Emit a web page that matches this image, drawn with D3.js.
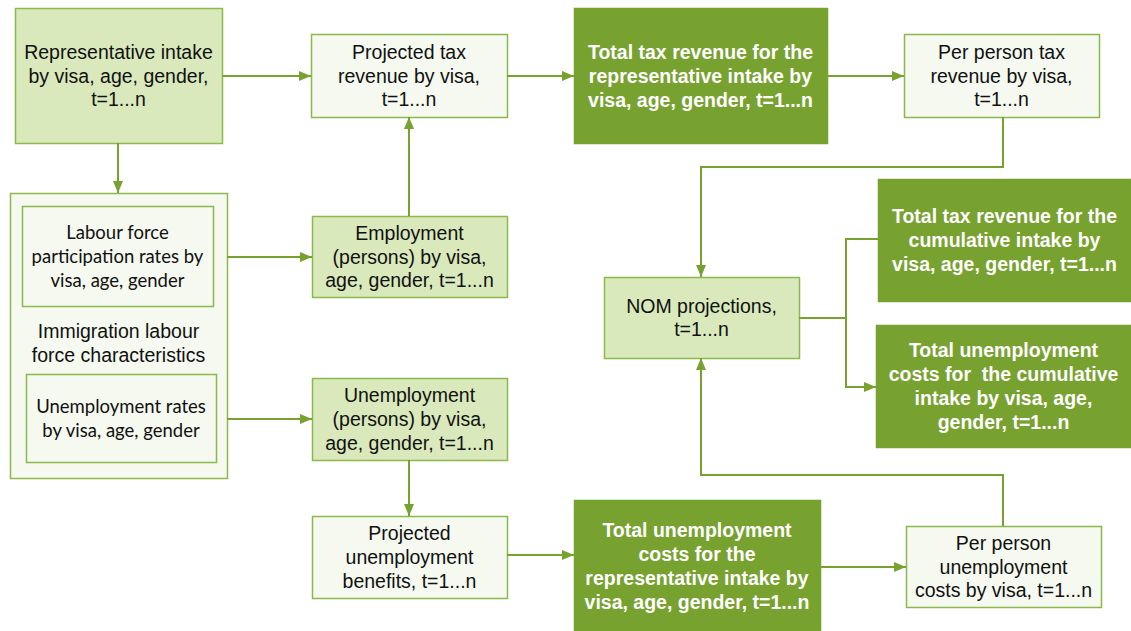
<!DOCTYPE html>
<html>
<head>
<meta charset="utf-8">
<script src="https://cdn.jsdelivr.net/npm/d3@7"></script>
<style>
  body { margin: 0; background: #fff; }
  svg { display: block; }
</style>
</head>
<body>
<div class="chart"></div>
<script>
// node ids, labels and kinds
const nodeIds = ["intake", "projTax", "totalTax", "perTax", "container", "lfpr", "urate",
    "employment", "unemployment", "projBen", "totalUnemp", "perUnemp", "nom", "cumTax", "cumUnemp"]
const nodeLabels = [
    ["Representative intake", "by visa, age, gender,", "t=1...n"],
    ["Projected tax", "revenue by visa,", "t=1...n"],
    ["Total tax revenue for the", "representative intake by", "visa, age, gender, t=1...n"],
    ["Per person tax", "revenue by visa,", "t=1...n"],
    ["Immigration labour", "force characteristics"],
    ["Labour force", "participation rates by", "visa, age, gender"],
    ["Unemployment rates", "by visa, age, gender"],
    ["Employment", "(persons) by visa,", "age, gender, t=1...n"],
    ["Unemployment", "(persons) by visa,", "age, gender, t=1...n"],
    ["Projected", "unemployment", "benefits, t=1...n"],
    ["Total unemployment", "costs for the", "representative intake by", "visa, age, gender, t=1...n"],
    ["Per person", "unemployment", "costs by visa, t=1...n"],
    ["NOM projections,", "t=1...n"],
    ["Total tax revenue for the", "cumulative intake by", "visa, age, gender, t=1...n"],
    ["Total unemployment", "costs for  the cumulative", "intake by visa, age,", "gender, t=1...n"]
]
const nodeKinds = ["light", "pale", "dark", "pale", "pale", "inner", "inner",
    "light", "light", "pale", "dark", "pale", "light", "dark", "dark"]

// links: from, to, arrowhead
const linkFrom = ["intake", "projTax", "totalTax", "perTax", "employment", "intake", "lfpr", "urate",
    "unemployment", "projBen", "totalUnemp", "perUnemp", "nom", "nom"]
const linkTo = ["projTax", "totalTax", "perTax", "nom", "projTax", "container", "employment", "unemployment",
    "projBen", "totalUnemp", "perUnemp", "nom", "cumTax", "cumUnemp"]
const linkArrow = [true, true, true, true, true, true, true, true,
    true, true, true, true, false, true]

// ---- layout (pixel geometry of the diagram) ----
const width = 1131
const height = 631
const box = {
    intake: [15, 8, 207, 135],
    projTax: [311, 34, 196, 83],
    totalTax: [574, 8, 253, 135],
    perTax: [904, 34, 195, 83],
    container: [10, 193, 217, 285],
    lfpr: [22, 206, 191, 100],
    urate: [26, 374, 190, 88],
    employment: [312, 216, 195, 81],
    unemployment: [312, 378, 195, 82],
    projBen: [312, 516, 195, 82],
    totalUnemp: [574, 500, 246, 131],
    perUnemp: [906, 526, 195, 81],
    nom: [604, 277, 195, 81],
    cumTax: [878, 179, 253, 122],
    cumUnemp: [876, 325, 255, 122]
}
const textMid = { container: 343 }
const route = {
    "intake>projTax": [[222, 76], [311, 76]],
    "projTax>totalTax": [[507, 76], [574, 76]],
    "totalTax>perTax": [[827, 76], [904, 76]],
    "perTax>nom": [[1003, 117], [1003, 167], [701, 167], [701, 277]],
    "employment>projTax": [[409, 216], [409, 117]],
    "intake>container": [[118, 143], [118, 193]],
    "lfpr>employment": [[227, 257], [312, 257]],
    "urate>unemployment": [[227, 419], [312, 419]],
    "unemployment>projBen": [[409, 460], [409, 516]],
    "projBen>totalUnemp": [[507, 555], [574, 555]],
    "totalUnemp>perUnemp": [[820, 567], [906, 567]],
    "perUnemp>nom": [[1003, 526], [1003, 475], [701, 475], [701, 358]],
    "nom>cumTax": [[799, 318], [846, 318], [846, 239], [878, 239]],
    "nom>cumUnemp": [[846, 318], [846, 387], [876, 387]]
}

const green = "#77a22f"
const sans = "'Liberation Sans', Arial, Helvetica, sans-serif"
const style = {
    light: { fill: "#d9e9bc", stroke: "#8cb94b", color: "#111", weight: "normal", font: sans, size: 19.5, lh: 23.7 },
    pale: { fill: "#f5f9ef", stroke: "#8cb94b", color: "#111", weight: "normal", font: sans, size: 19.5, lh: 23.7 },
    dark: { fill: green, stroke: green, color: "#fff", weight: "bold", font: sans, size: 19.5, lh: 24 },
    inner: { fill: "#f5f9ef", stroke: "#8cb94b", color: "#111", weight: "normal", font: "Lato, Carlito, sans-serif", size: 18.5, lh: 24 }
}

const nodes = nodeIds.map((id, i) => ({ id, lines: nodeLabels[i], kind: nodeKinds[i] }))
const links = linkFrom.map((f, i) => ({ key: f + ">" + linkTo[i], arrow: linkArrow[i] }))

const svg = d3.select(".chart")
    .append("svg")
    .attr("width", width)
    .attr("height", height)

svg.append("defs")
    .append("marker")
    .attr("id", "arrow")
    .attr("markerUnits", "userSpaceOnUse")
    .attr("viewBox", "0 0 12 12")
    .attr("refX", 12)
    .attr("refY", 6)
    .attr("markerWidth", 12)
    .attr("markerHeight", 12)
    .attr("orient", "auto")
    .append("path")
    .attr("d", "M0,1 L12,6 L0,11 Z")
    .attr("fill", green)

const g = svg.selectAll("g.node")
    .data(nodes)
    .join("g")
    .attr("class", "node")

g.append("rect")
    .attr("x", d => box[d.id][0] + 0.5)
    .attr("y", d => box[d.id][1] + 0.5)
    .attr("width", d => box[d.id][2])
    .attr("height", d => box[d.id][3])
    .attr("fill", d => style[d.kind].fill)
    .attr("stroke", d => style[d.kind].stroke)
    .attr("stroke-width", 1.5)

g.each(function (d) {
    const s = style[d.kind]
    const b = box[d.id]
    const cx = b[0] + b[2] / 2
    const cy = textMid[d.id] !== undefined ? textMid[d.id] : b[1] + b[3] / 2
    const n = d.lines.length
    d3.select(this).selectAll("text")
        .data(d.lines)
        .join("text")
        .attr("x", cx)
        .attr("y", (t, i) => cy + (i - (n - 1) / 2) * s.lh)
        .attr("text-anchor", "middle")
        .attr("dominant-baseline", "central")
        .style("font-family", s.font)
        .style("font-size", s.size + "px")
        .style("font-weight", s.weight)
        .attr("fill", s.color)
        .style("white-space", "pre")
        .text(t => t)
})

const line = d3.line()

svg.append("g")
    .selectAll("path")
    .data(links)
    .join("path")
    .attr("d", d => line(route[d.key]))
    .attr("fill", "none")
    .attr("stroke", green)
    .attr("stroke-width", 2)
    .attr("marker-end", d => d.arrow ? "url(#arrow)" : null)
</script>
</body>
</html>
